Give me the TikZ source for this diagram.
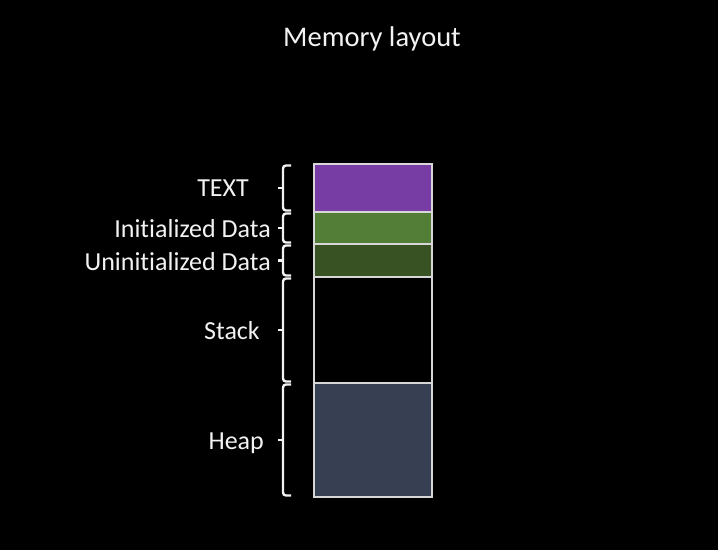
\documentclass[tikz,border=0pt]{standalone}
\usepackage{fontspec}
\setmainfont[Ligatures={NoCommon}]{Carlito}
\usetikzlibrary{positioning}
\definecolor{textpurple}{RGB}{120,61,165}
\definecolor{initgreen}{RGB}{83,126,56}
\definecolor{uninitgreen}{RGB}{56,82,36}
\definecolor{heapslate}{RGB}{54,64,82}
\definecolor{edgegray}{RGB}{215,215,215}
\definecolor{labelwhite}{RGB}{242,242,242}
\tikzset{
  segbox/.style={
    draw=edgegray,
    line width=1.4pt,
    minimum width=118pt,
    inner sep=0pt,
    outer sep=0pt
  },
  seglabel/.style={text=labelwhite, font=\fontsize{26}{30}\selectfont, anchor=base east, inner sep=0pt},
  segbrace/.style={draw=labelwhite, line width=2.4pt, rounded corners=3pt}
}
\newcommand{\segbracket}[1]{%
  \draw[segbrace] ([xshift=-23pt,yshift=-1.5pt]#1.north west) -- ([xshift=-31pt,yshift=-1.5pt]#1.north west)
    -- ([xshift=-31pt,yshift=1.5pt]#1.south west) -- ([xshift=-23pt,yshift=1.5pt]#1.south west);
  \draw[segbrace] ([xshift=-31pt]#1.west) -- ([xshift=-36pt]#1.west);}

\begin{document}
\begin{tikzpicture}[x=1pt,y=-1pt]
    \fill[black] (0,0) rectangle (718,550);
    \useasboundingbox (0,0) rectangle (718,550);

    \node[text=labelwhite, font=\fontsize{28.5}{32}\selectfont, anchor=base, inner sep=0pt] (title) at (372,46) {Memory layout};

    \node[segbox, fill=textpurple, minimum height=48pt, anchor=north] (text) at (373,164) {};
    \node[segbox, fill=initgreen, minimum height=32pt, below=0pt of text] (init) {};
    \node[segbox, fill=uninitgreen, minimum height=33pt, below=0pt of init] (uninit) {};
    \node[segbox, fill=black, minimum height=106pt, below=0pt of uninit] (stack) {};
    \node[segbox, fill=heapslate, minimum height=114pt, below=0pt of stack] (heap) {};

    \node[seglabel] (textlbl) at (249,196) {TEXT};
    \node[seglabel] (initlbl) at (271,237) {Initialized Data};
    \node[seglabel] (uninitlbl) at (271,270) {Uninitialized Data};
    \node[seglabel] (stacklbl) at (260,339) {Stack};
    \node[seglabel] (heaplbl) at (264,449) {Heap};

    \segbracket{text}
    \segbracket{init}
    \segbracket{uninit}
    \segbracket{stack}
    \segbracket{heap}
\end{tikzpicture}
\end{document}
